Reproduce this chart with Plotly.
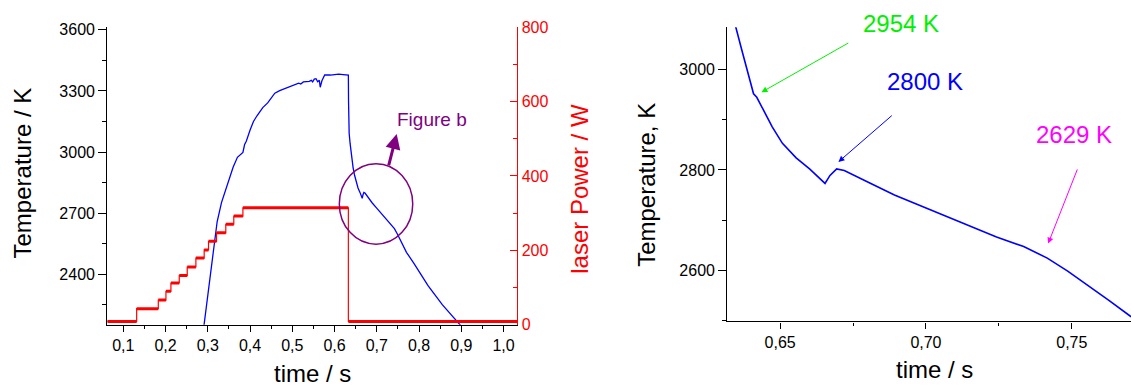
import plotly.graph_objects as go

# ---------------- data ----------------
# Temperature trace (time in s, temperature in K)
time_T = [0.2900, 0.2913, 0.2984, 0.3071, 0.3150, 0.3220, 0.3323, 0.3425, 0.3488, 0.3600,
          0.3700, 0.3783, 0.3830, 0.3870, 0.3910, 0.4000, 0.4080, 0.4163, 0.4300, 0.4416,
          0.4500, 0.4540, 0.4585, 0.4700, 0.4838, 0.5000, 0.5100, 0.5150, 0.5200, 0.5260,
          0.5400, 0.5450, 0.5480, 0.5520, 0.5560, 0.5600, 0.5639, 0.5660, 0.5700, 0.5740,
          0.5766, 0.5900, 0.6000, 0.6100, 0.6200, 0.6314, 0.6326, 0.6330, 0.6338, 0.6345,
          0.6368, 0.6392, 0.6409, 0.6420, 0.6438, 0.6473, 0.6508, 0.6555, 0.6601, 0.6654,
          0.6671, 0.6694, 0.6720, 0.6753, 0.6811, 0.6892, 0.6997, 0.7079, 0.7160, 0.7242,
          0.7335, 0.7416, 0.7486, 0.7533, 0.7626, 0.7701, 0.7874, 0.8212, 0.8549, 0.8970,
          0.9000]
temperature = [2135, 2157, 2283, 2423, 2556, 2658, 2752, 2815, 2864, 2927,
               2974, 2990, 2998, 3037, 3053, 3108, 3150, 3178, 3218, 3241,
               3265, 3272, 3289, 3301, 3312, 3328, 3335, 3338, 3334, 3344,
               3347, 3352, 3344, 3358, 3360, 3345, 3352, 3318, 3350, 3372,
               3378, 3378, 3380, 3382, 3380, 3381, 3378, 3250, 3150, 3092,
               3041, 2989, 2952, 2945, 2924, 2886, 2853, 2824, 2802, 2773,
               2789, 2802, 2799, 2789, 2773, 2750, 2725, 2705, 2685, 2666,
               2647, 2624, 2598, 2579, 2540, 2508, 2455, 2345, 2251, 2151,
               2145]

# Laser power staircase (value holds from each time until the next)
time_P = [0.062, 0.1315, 0.1827, 0.2008, 0.2126, 0.2323, 0.2512, 0.2717, 0.2913,
          0.3016, 0.3205, 0.3425, 0.3614, 0.3830, 0.6326, 1.0325]
power = [8.6, 43, 66, 89.5, 112, 132, 155, 179, 201, 224, 247, 270, 292, 314, 8.6, 8.6]

# Axis ranges
left_x_range = [0.062, 1.0325]
left_T_range = [2153, 3613]
power_range = [0, 800]
right_x_range = [0.6319, 0.7703]
right_T_range = [2497.5, 3085]

# Highlighted temperatures in panel b
marked_labels = ["2954 K", "2800 K", "2629 K"]
marked_colors = ["#00F000", "#0000FF", "#FF00FF"]
marked_text_xy = [(0.6916, 3092), (0.6998, 2976), (0.7509, 2871)]
marked_tail_xy = [(0.6739, 3055), (0.6888, 2911), (0.7521, 2804)]
marked_head_xy = [(0.6436, 2955), (0.6700, 2816), (0.7419, 2653)]

# ---------------- figure ----------------
W, H = 1131, 392
FONT = "Liberation Sans, Arial, sans-serif"


def px_x(p):
    return p / W


def px_y(p):
    return 1 - p / H


def t_to_paper_y(t):
    # convert a right-panel temperature to paper y (used for labels above the plot top)
    y0, y1 = px_y(327.7), px_y(20)
    return y0 + (t - right_T_range[0]) / (right_T_range[1] - right_T_range[0]) * (y1 - y0)


fig = go.Figure()

# left panel: temperature
fig.add_trace(go.Scatter(x=time_T, y=temperature, mode="lines",
                         line=dict(color="#0000FF", width=1.3),
                         xaxis="x", yaxis="y", showlegend=False, hoverinfo="skip"))

# left panel: laser power (thin step outline + thick horizontal levels)
fig.add_trace(go.Scatter(x=time_P, y=power, mode="lines", line_shape="hv",
                         line=dict(color="#FF0000", width=1.2),
                         xaxis="x", yaxis="y2", showlegend=False, hoverinfo="skip"))
seg_x, seg_y = [], []
for i in range(len(time_P) - 1):
    seg_x += [time_P[i], time_P[i + 1], None]
    seg_y += [power[i], power[i], None]
fig.add_trace(go.Scatter(x=seg_x, y=seg_y, mode="lines",
                         line=dict(color="#FF0000", width=3),
                         xaxis="x", yaxis="y2", showlegend=False, hoverinfo="skip"))

# right panel: zoomed temperature
fig.add_trace(go.Scatter(x=time_T, y=temperature, mode="lines",
                         line=dict(color="#0000FF", width=1.6),
                         xaxis="x2", yaxis="y3", showlegend=False, hoverinfo="skip"))

tickfont = dict(family=FONT, size=16, color="black")
axis_common = dict(showgrid=False, zeroline=False, showline=True, linecolor="black",
                   linewidth=1.3, tickcolor="black", tickwidth=1.2, tickfont=tickfont)

fig.update_layout(
    width=W, height=H,
    margin=dict(l=0, r=0, t=0, b=0),
    paper_bgcolor="white", plot_bgcolor="white",
    separators=", ",
    font=dict(family=FONT, size=16, color="black"),
    showlegend=False,
    xaxis=dict(domain=[px_x(107.3), px_x(517.3)], range=left_x_range, anchor="y",
               ticks="outside", ticklen=6, dtick=0.1, tick0=0, tickformat=".1f",
               minor=dict(dtick=0.05, tick0=0, ticks="outside", ticklen=3,
                          tickcolor="black", tickwidth=1.2),
               **axis_common),
    yaxis=dict(domain=[px_y(331), px_y(20)], range=left_T_range, anchor="x",
               ticks="outside", ticklen=8, dtick=300, tick0=0,
               minor=dict(dtick=150, tick0=0, ticks="outside", ticklen=4,
                          tickcolor="black", tickwidth=1.2),
               **axis_common),
    yaxis2=dict(overlaying="y", side="right", anchor="x", range=power_range,
                showgrid=False, zeroline=False, showline=True, linecolor="#FF0000",
                linewidth=1.3, ticks="inside", ticklen=7, tickwidth=1.2,
                tickcolor="#FF0000", dtick=200, tick0=0,
                tickfont=dict(family=FONT, size=16, color="#FF0000"),
                minor=dict(dtick=100, tick0=0, ticks="inside", ticklen=4,
                           tickcolor="#FF0000", tickwidth=1.2)),
    xaxis2=dict(domain=[px_x(727.3), 1.0], range=right_x_range, anchor="y3",
                ticks="outside", ticklen=6, dtick=0.05, tick0=0, tickformat=".2f",
                minor=dict(dtick=0.025, tick0=0, ticks="outside", ticklen=3,
                           tickcolor="black", tickwidth=1.2),
                **axis_common),
    yaxis3=dict(domain=[px_y(327.7), px_y(20)], range=right_T_range, anchor="x2",
                ticks="outside", ticklen=8, dtick=200, tick0=0,
                minor=dict(dtick=100, tick0=0, ticks="outside", ticklen=4,
                           tickcolor="black", tickwidth=1.2),
                **axis_common),
)

# ellipse marking the region shown in figure b
fig.add_shape(type="circle", xref="x", yref="y",
              x0=0.6112, x1=0.7850, y0=2548, y1=2943,
              line=dict(color="#800080", width=1.5))

annotations = []
# arrow + label "Figure b"
annotations.append(dict(x=0.7470, y=3088, ax=0.7272, ay=2927, xref="x", yref="y",
                        axref="x", ayref="y", text="", showarrow=True,
                        arrowhead=2, arrowsize=1, arrowwidth=3, arrowcolor="#800080"))
annotations.append(dict(x=0.8306, y=3158, xref="x", yref="y", text="Figure b",
                        xanchor="center", yanchor="middle",
                        showarrow=False, font=dict(family=FONT, size=19, color="#800080")))

# axis titles
title_font = dict(family=FONT, size=24, color="black")
annotations += [
    dict(x=px_x(22), y=px_y(173), text="Temperature / K", textangle=-90,
         font=title_font),
    dict(x=px_x(312.3), y=px_y(381.7), text="time / s", font=title_font),
    dict(x=px_x(580), y=px_y(189), text="laser Power / W", textangle=-90,
         font=dict(family=FONT, size=24, color="#FF0000")),
    dict(x=px_x(646.5), y=px_y(185.4), text="Temperature, K", textangle=-90,
         font=title_font),
    dict(x=px_x(934), y=px_y(377.7), text="time / s", font=title_font),
]
for a in annotations[-5:]:
    a.update(xref="paper", yref="paper", xanchor="center", yanchor="middle",
             showarrow=False)

# marked temperatures in panel b
for lab, col, (tx, ty), (ax_, ay_), (hx, hy) in zip(marked_labels, marked_colors,
                                                     marked_text_xy, marked_tail_xy,
                                                     marked_head_xy):
    annotations.append(dict(x=tx, y=t_to_paper_y(ty), xref="x2", yref="paper", text=lab,
                            xanchor="center", yanchor="middle", showarrow=False,
                            font=dict(family=FONT, size=24, color=col)))
    annotations.append(dict(x=hx, y=hy, ax=ax_, ay=ay_, xref="x2", yref="y3",
                            axref="x2", ayref="y3", text="", showarrow=True,
                            arrowhead=2, arrowsize=1.2, arrowwidth=1, arrowcolor=col))

fig.update_layout(annotations=annotations)

fig.write_html(
    "out.html",
    config={"displayModeBar": False},
    post_script="document.body.style.margin='0';document.body.style.padding='0';"
                "document.body.style.overflow='hidden';"
                "document.documentElement.style.overflow='hidden';",
)
